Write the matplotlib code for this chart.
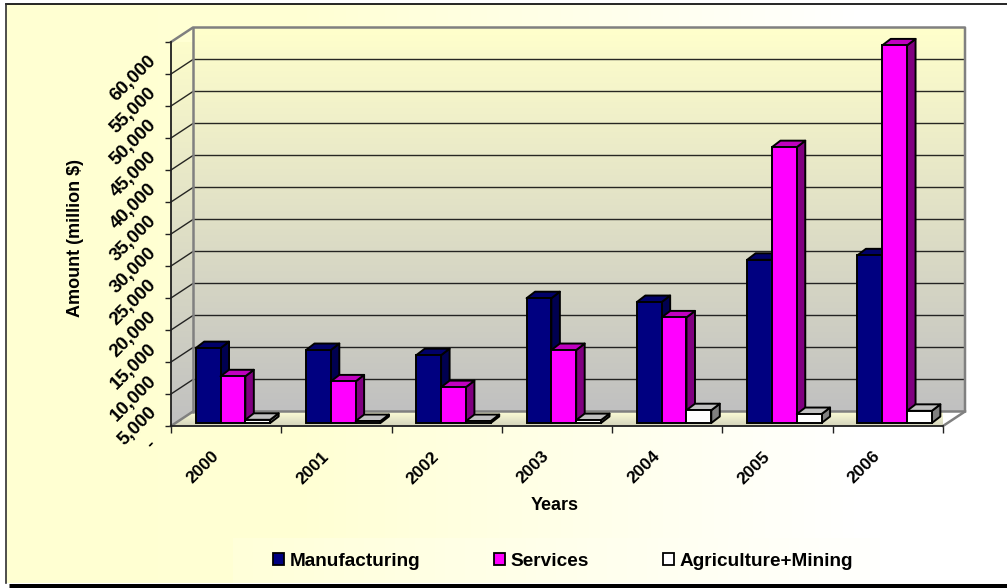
import numpy as np
import matplotlib
matplotlib.use("Agg")
import matplotlib.pyplot as plt
from matplotlib.colors import LinearSegmentedColormap
from matplotlib.patches import Polygon, Patch
from matplotlib.transforms import ScaledTranslation

years = ['2000', '2001', '2002', '2003', '2004', '2005', '2006']
manufacturing = [11700, 11400, 10600, 19500, 18900, 25500, 26200]
services = [7300, 6500, 5600, 11400, 16500, 43100, 59000]
agri_mining = [500, 300, 300, 450, 2000, 1400, 1900]
series_names = ['Manufacturing', 'Services', 'Agriculture+Mining']
y_ticks = list(range(0, 60001, 5000))
y_labels = ['-'] + [f'{v:,}' for v in y_ticks[1:]]

W, H = 1007, 588
plt.rcParams['font.family'] = ['Liberation Sans', 'DejaVu Sans']
plt.rcParams['font.weight'] = 'bold'
fig = plt.figure(figsize=(W / 100, H / 100), dpi=100, facecolor='white')

# ---- background frame (pixel coordinates)
bg = fig.add_axes([0, 0, 1, 1], zorder=0)
bg.set_xlim(0, W); bg.set_ylim(H, 0); bg.axis('off')
bg_cmap = LinearSegmentedColormap.from_list('bg', [(0, '#FFFFD2'), (0.3, '#FFFFD4'), (0.85, '#FFFFFF'), (1, '#FFFFFF')])
bg.imshow(np.linspace(0, 1, 256)[None, :], extent=[6, W, 583, 4], cmap=bg_cmap, aspect='auto', vmin=0, vmax=1)
bg.plot([6, W], [3.5, 3.5], color='black', lw=1.2)
bg.plot([6, 6], [3.5, 583], color='#303030', lw=1.2)
bg.plot([9, W], [585.5, 585.5], color='black', lw=3.6, solid_capstyle='butt')
bg.imshow(np.linspace(0, 1, 64)[None, :], extent=[233, 880, 583, 538],
          cmap=LinearSegmentedColormap.from_list('lg', ['#FFFFD9', '#FFFFFD']), aspect='auto')
bg.set_xlim(0, W); bg.set_ylim(H, 0)

# ---- main axes: the front plane of the 3-D box
L, R, T, B = 171, 943, 42, 426
ax = fig.add_axes([L / W, 1 - B / H, (R - L) / W, (B - T) / H], zorder=1)
ax.patch.set_alpha(0)
xmax, ymax = len(years), y_ticks[-1]
px = xmax / (R - L)      # data units per pixel, x
py = ymax / (B - T)      # data units per pixel, y
DX, DY = 22 * px, 14.5 * py

wall_cmap = LinearSegmentedColormap.from_list('wall', ['#C0C0C0', '#FFFFCC'])
floor_cmap = LinearSegmentedColormap.from_list('floor', ['#D4D4BC', '#FFFFD8'])
grad = np.linspace(0, 1, 256)[:, None]

# back wall, left wall, floor
ax.imshow(grad, origin='lower', extent=[DX, xmax + DX, DY, ymax + DY], cmap=wall_cmap, aspect='auto', zorder=1, clip_on=False)
left_poly = Polygon([(0, 0), (DX, DY), (DX, ymax + DY), (0, ymax)], closed=True, transform=ax.transData, fc='none', ec='none')
ax.add_patch(left_poly)
lw_img = ax.imshow(grad, origin='lower', extent=[0, DX, 0, ymax + DY], cmap=wall_cmap, aspect='auto', zorder=1)
lw_img.set_clip_path(left_poly)
floor_poly = Polygon([(0, 0), (DX, DY), (xmax + DX, DY), (xmax, 0)], closed=True, transform=ax.transData, fc='none', ec='none')
ax.add_patch(floor_poly)
fl_img = ax.imshow(grad, origin='lower', extent=[0, xmax + DX, 0, DY], cmap=floor_cmap, aspect='auto', zorder=1)
fl_img.set_clip_path(floor_poly)
ax.set_xlim(0, xmax); ax.set_ylim(0, ymax)

# gridlines on the walls
for v in y_ticks[1:-1]:
    ax.plot([0, DX, xmax + DX], [v, v + DY, v + DY], color='#101010', lw=1.0, alpha=0.9, zorder=2, clip_on=False)
outline = dict(color='#808080', lw=1.8, zorder=2, clip_on=False)
ax.plot([0, DX, xmax + DX, xmax + DX, xmax], [ymax, ymax + DY, ymax + DY, DY, 0], **outline)
ax.plot([DX, DX], [DY, ymax + DY], **outline)
ax.plot([0, DX, xmax + DX], [0, DY, DY], **outline)

# ---- bars
BAR_W = 0.225
START = 0.224
BASE = 3 * py
DEPX, DEPY = 8.5 * px, 6.5 * py
series = [
    (manufacturing, '#000080', '#000050', '#000068'),
    (services, '#FF00FF', '#800080', '#C000C0'),
    (agri_mining, '#FFFFFF', '#808080', '#C0C0C0'),
]
for cat in range(len(years)):
    for s, (vals, front, side, top) in enumerate(series):
        x0 = cat + START + s * BAR_W
        x1 = x0 + BAR_W
        y1 = BASE + vals[cat]
        z = 3 + cat * 3 + s * 3
        ax.add_patch(Polygon([(x1, BASE), (x1 + DEPX, BASE + DEPY), (x1 + DEPX, y1 + DEPY), (x1, y1)],
                             closed=True, fc=side, ec='black', lw=1.4, zorder=z, clip_on=False, joinstyle='round'))
        ax.add_patch(Polygon([(x0, y1), (x0 + DEPX, y1 + DEPY), (x1 + DEPX, y1 + DEPY), (x1, y1)],
                             closed=True, fc=top, ec='black', lw=1.4, zorder=z, clip_on=False, joinstyle='round'))
        ax.bar(x0, vals[cat], BAR_W, bottom=BASE, align='edge', color=front, edgecolor='black', lw=1.4, zorder=z + 1)

# ---- axes, ticks, labels
for sp in ['top', 'right']:
    ax.spines[sp].set_visible(False)
for sp in ['left', 'bottom']:
    ax.spines[sp].set_color('#202020')
    ax.spines[sp].set_linewidth(1.3)
    ax.spines[sp].set_zorder(2)

ax.set_yticks(y_ticks)
ax.set_yticklabels(y_labels, fontsize=13.5, fontweight='bold', rotation=45, ha='right', va='center', rotation_mode='anchor')
ax.tick_params(axis='y', length=4.5, width=1.0, color='#202020', pad=0)
ax.set_xticks(range(len(years) + 1))
ax.set_xticklabels([])
ax.set_xticks([i + 0.5 for i in range(len(years))], labels=years, minor=True)
ax.tick_params(axis='x', which='major', length=5, width=1.0, color='#202020')
ax.tick_params(axis='x', which='minor', length=0, pad=0)
for lab in ax.get_xticklabels(minor=True):
    lab.set(fontsize=12.5, fontweight='bold', rotation=45, ha='right', va='center', rotation_mode='anchor')
    lab.set_transform(lab.get_transform() + ScaledTranslation(-10 / 100, -28 / 100, fig.dpi_scale_trans))
for lab in ax.get_yticklabels():
    lab.set_transform(lab.get_transform() + ScaledTranslation(-11 / 100, -16 / 100, fig.dpi_scale_trans))

fig.text(555 / W, 1 - 505 / H, 'Years', fontsize=13, fontweight='bold', ha='center', va='center', zorder=5)
fig.text(76 / W, 1 - 238 / H, 'Amount (million $)', fontsize=13, fontweight='bold', rotation=90, ha='center', va='center', zorder=5)

# ---- legend
handles = [Patch(fc=f, ec='black', lw=1.3) for _, f, _, _ in series]
leg = fig.legend(handles, series_names, ncol=3, loc='center', bbox_to_anchor=(563 / W, 1 - 561 / H), frameon=False,
                 handlelength=0.6, handleheight=0.6, handletextpad=0.3, columnspacing=3.85,
                 prop={'family': ['Liberation Sans'], 'weight': 'bold', 'size': 13.7})

fig.savefig('out.png', dpi=100, facecolor='white')
